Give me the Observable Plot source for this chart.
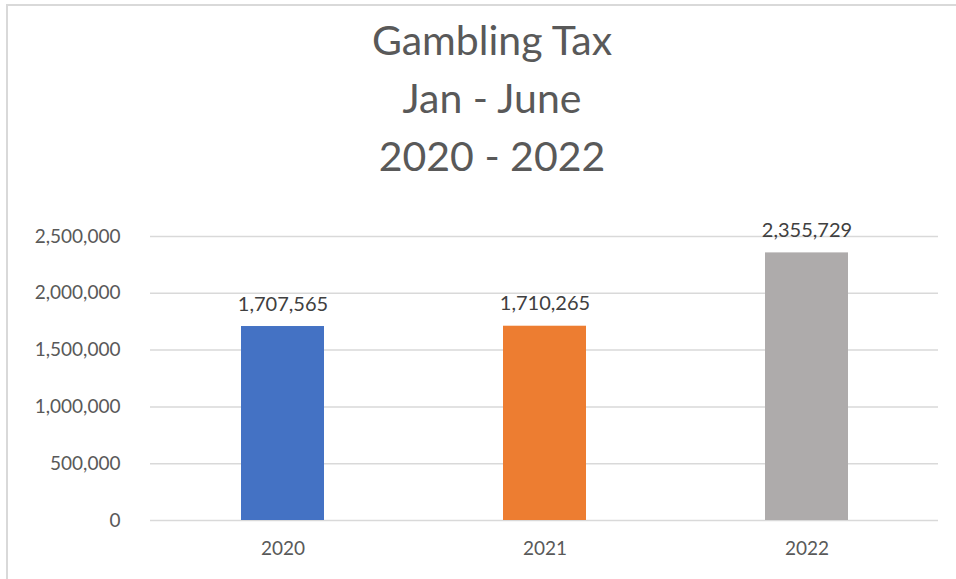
<!DOCTYPE html>
<html>
<head>
<meta charset="utf-8">
<script src="https://cdn.jsdelivr.net/npm/d3@7"></script>
<script src="https://cdn.jsdelivr.net/npm/@observablehq/plot@0.6"></script>
<style>
  html, body { margin: 0; padding: 0; background: #fff; }
  #frame { position: absolute; left: 6px; top: 4px; width: 960px; height: 590px;
           border-left: 2px solid #d9d9d9; border-top: 2px solid #d9d9d9; }
  #title { position: absolute; left: 0; top: 11px; width: 984px; text-align: center;
           font-family: Lato, "Open Sans", sans-serif; font-size: 41px; color: #595959;
           line-height: 58px; }
  #chart { position: absolute; left: 0; top: 200px; }
</style>
</head>
<body>
<div id="frame"></div>
<div id="title">Gambling Tax<br>Jan - June<br>2020 - 2022</div>
<div id="chart"></div>
<script>
const years = ["2020", "2021", "2022"];
const values = [1707565, 1710265, 2355729];
const colors = ["#4472C4", "#ED7D31", "#AEABAB"];
const yTicks = [0, 500000, 1000000, 1500000, 2000000, 2500000];

const data = years.map((y, i) => ({year: y, value: values[i], color: colors[i]}));
const fmt = d3.format(",");

const plot = Plot.plot({
  width: 956,
  height: 379,
  marginLeft: 150,
  marginRight: 18,
  marginTop: 36,
  marginBottom: 59,
  style: {fontFamily: "Lato, 'Open Sans', sans-serif", color: "#595959", background: "transparent"},
  x: {domain: years, paddingInner: 0.684, paddingOuter: 0.342, label: null},
  y: {domain: [0, 2500000], label: null},
  marks: [
    Plot.ruleY(yTicks, {stroke: "#d9d9d9", strokeWidth: 1.5, strokeOpacity: 1}),
    Plot.barY(data, {x: "year", y: "value", fill: "color"}),
    Plot.text(data, {x: "year", y: "value", text: d => fmt(d.value), lineAnchor: "bottom", dy: -16, fontSize: 20, fill: "#404040"}),
    Plot.axisY({ticks: yTicks, tickFormat: fmt, tickSize: 0, tickPadding: 30, fontSize: 19, fill: "#595959"}),
    Plot.axisX({tickSize: 0, tickPadding: 21, fontSize: 19, fill: "#595959"})
  ]
});
document.getElementById("chart").appendChild(plot);
</script>
</body>
</html>
